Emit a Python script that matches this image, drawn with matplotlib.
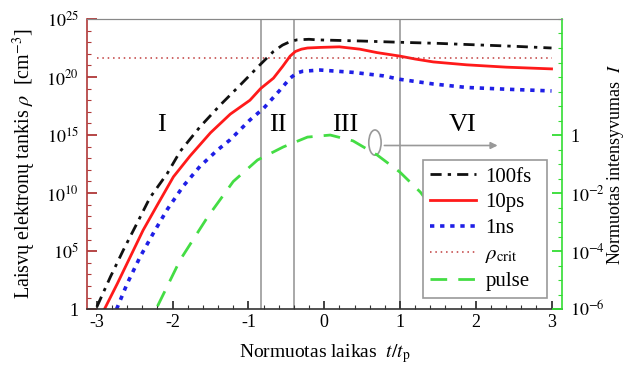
# Free electron density vs normalised time (log scale, twin intensity axis)

import numpy as np
import matplotlib
matplotlib.use("Agg")
import matplotlib.pyplot as plt
from matplotlib.patches import Ellipse
from matplotlib.ticker import FixedLocator, NullFormatter

# Data (log10 values)
t_100fs = [-3.0, -2.82, -2.65, -2.47, -2.3, -2.07, -1.9, -1.64, -1.37, -1.11,
           -0.84, -0.67, -0.55, -0.45, -0.36, -0.2, -0.09, 0.5, 0.96, 1.5, 1.89, 2.5, 3.0]
log_100fs = [0.2, 2.8, 5.1, 7.4, 9.6, 11.7, 13.6, 15.7, 17.6, 19.3,
             21.1, 22.2, 22.75, 23.05, 23.2, 23.25, 23.2, 23.1, 23.0, 22.9, 22.8, 22.65, 22.5]

t_10ps = [-2.9, -2.73, -2.56, -2.39, -2.2, -1.99, -1.77, -1.5, -1.24, -0.98,
          -0.84, -0.67, -0.55, -0.45, -0.38, -0.3, -0.22, -0.05, 0.2, 0.47,
          0.7, 1.0, 1.2, 1.44, 1.88, 2.4, 3.0]
log_10ps = [0.0, 2.2, 4.5, 6.8, 9.0, 11.4, 13.2, 15.2, 16.8, 18.0,
            19.0, 19.9, 20.9, 21.8, 22.2, 22.4, 22.5, 22.55, 22.6, 22.4,
            22.1, 21.8, 21.55, 21.3, 21.05, 20.85, 20.7]

t_1ns = [-2.74, -2.6, -2.43, -2.25, -2.07, -1.86, -1.64, -1.41, -1.24, -0.98,
         -0.8, -0.58, -0.45, -0.36, -0.28, -0.05, 0.38, 0.78, 1.0, 1.44, 1.88, 2.4, 3.0]
log_1ns = [0.0, 2.2, 4.5, 6.6, 8.6, 10.6, 12.3, 13.7, 14.6, 16.3,
           17.3, 18.9, 19.9, 20.35, 20.5, 20.6, 20.4, 20.1, 19.8, 19.4, 19.1, 18.95, 18.8]

log_crit = 21.65
crit_span = [-3.0, 3.0]

t_pulse = [-2.2, -1.9, -1.54, -1.2, -0.88, -0.54, -0.22, 0.08, 0.38, 0.7,
           1.0, 1.27, 1.6, 1.9, 2.2]
log_pulse = [-5.9, -4.3, -2.83, -1.6, -0.86, -0.41, -0.07, 0.0, -0.2, -0.69,
             -1.28, -1.97, -3.1, -4.4, -5.9]

region_lines = [-0.83, -0.4, 1.0]
region_names = ["I", "II", "III", "VI"]
region_x = [-2.15, -0.61, 0.28, 1.82]

# Styling
plt.rcParams["font.family"] = ["Liberation Serif", "DejaVu Serif"]
plt.rcParams["mathtext.fontset"] = "stix"

fig = plt.figure(figsize=(6.26, 3.65), dpi=100)
ax = fig.add_axes([0.139, 0.153, 0.759, 0.795])
ax2 = ax.twinx()

ax.set_yscale("log")
ax2.set_yscale("log")
ax.set_xlim(-3.13, 3.14)
ax.set_ylim(1, 1e25)
ax2.set_ylim(1e-6, 1e4)

for x in region_lines:
    ax.axvline(x, color="#999999", lw=1.2, zorder=1)

l1, = ax.plot(t_100fs, 10 ** np.array(log_100fs), color="#111111", lw=2,
              dashes=(4, 2.2, 1.2, 2.2), label="100fs")
l2, = ax.plot(t_10ps, 10 ** np.array(log_10ps), color="#ff1a1a", lw=2, label="10ps")
l3, = ax.plot(t_1ns, 10 ** np.array(log_1ns), color="#1f1fe6", lw=2.6,
              dashes=(1.2, 1.6), label="1ns")
l4, = ax.plot(crit_span, [10 ** log_crit] * 2, color="#c03a3a", lw=1.1,
              dashes=(1, 2.5), label=r"$\rho_{\mathrm{crit}}$")
l5, = ax2.plot(t_pulse, 10 ** np.array(log_pulse), color="#44dd44", lw=2,
               dashes=(6, 4), label="pulse")

for name, x in zip(region_names, region_x):
    ax.text(x, 10 ** 15.9, name, fontsize=19, ha="center", va="center")

# Ellipse + arrow pointing to the right axis
ax2.add_patch(Ellipse((0.606, 0.574), 0.026, 0.087, transform=ax2.transAxes,
                      fill=False, edgecolor="#999999", lw=1.2))
ax2.annotate("", xy=(0.87, 0.564), xytext=(0.62, 0.564),
             xycoords="axes fraction", textcoords="axes fraction",
             arrowprops=dict(arrowstyle="-|>", color="#999999", lw=1.2))

# Left axis ticks
left_major = [1, 1e5, 1e10, 1e15, 1e20, 1e25]
left_labels = ["1", "$10^{5}$", "$10^{10}$", "$10^{15}$", "$10^{20}$", "$10^{25}$"]
ax.yaxis.set_major_locator(FixedLocator(left_major))
ax.set_yticklabels(left_labels)
ax.yaxis.set_minor_locator(FixedLocator([10.0 ** k for k in range(26)]))
ax.yaxis.set_minor_formatter(NullFormatter())

# Right axis ticks
right_major = [1e-6, 1e-4, 1e-2, 1]
right_labels = ["$10^{-6}$", "$10^{-4}$", "$10^{-2}$", "1"]
ax2.yaxis.set_major_locator(FixedLocator(right_major))
ax2.set_yticklabels(right_labels)
ax2.yaxis.set_minor_locator(FixedLocator([10.0 ** (k / 2) for k in range(-12, 9)]))
ax2.yaxis.set_minor_formatter(NullFormatter())

# x ticks
ax.set_xticks([-3, -2, -1, 0, 1, 2, 3])
ax.set_xticklabels(["-3", "-2", "-1", "0", "1", "2", "3"])
ax.xaxis.set_minor_locator(FixedLocator(np.arange(-3, 3.01, 0.2)))

left_col = "#b03838"
green_col = "#33dd33"
ax.tick_params(axis="both", which="both", direction="in", labelsize=13)
ax.tick_params(axis="y", which="major", length=7, width=1.3, color=left_col, pad=6)
ax.tick_params(axis="y", which="minor", length=3, width=0.8, color=left_col)
ax.tick_params(axis="x", which="major", length=6, width=1.3, color="#333333")
ax.tick_params(axis="x", which="minor", length=3, width=0.8, color="#333333")
ax2.tick_params(axis="y", which="both", direction="in", labelsize=13, color=green_col)
ax2.tick_params(axis="y", which="major", length=7, width=1.3, pad=6)
ax2.tick_params(axis="y", which="minor", length=3, width=0.8)

ax.spines["left"].set_color(left_col)
ax.spines["left"].set_linewidth(1.2)
ax2.spines["left"].set_visible(False)
ax2.spines["right"].set_color(green_col)
ax2.spines["right"].set_linewidth(1.2)
ax.spines["bottom"].set_color("#333333")
ax.spines["bottom"].set_linewidth(1.2)
ax2.spines["bottom"].set_visible(False)
for a in (ax, ax2):
    a.spines["top"].set_color("#888888")
ax.spines["right"].set_visible(False)

ax.set_xlabel(r"Normuotas laikas  $t/t_{\mathrm{p}}$", fontsize=14, labelpad=8)
ax.set_ylabel(r"Laisvų elektronų tankis $\rho$  [cm$^{-3}$]", fontsize=14.5, labelpad=6)
ax2.set_ylabel(r"Normuotas intensyvumas  $I$", fontsize=13, labelpad=0)

leg = ax2.legend(handles=[l1, l2, l3, l4, l5], loc="lower left",
                 bbox_to_anchor=(0.707, 0.038, 0.261, 0.45), mode="expand",
                 borderaxespad=0, fontsize=15, fancybox=False,
                 edgecolor="#999999", framealpha=1, handlelength=2.2,
                 handletextpad=0.45, borderpad=0.35, labelspacing=0.3)
leg.get_frame().set_linewidth(1.2)
leg.set_zorder(10)

fig.savefig("out.png", dpi=100)
